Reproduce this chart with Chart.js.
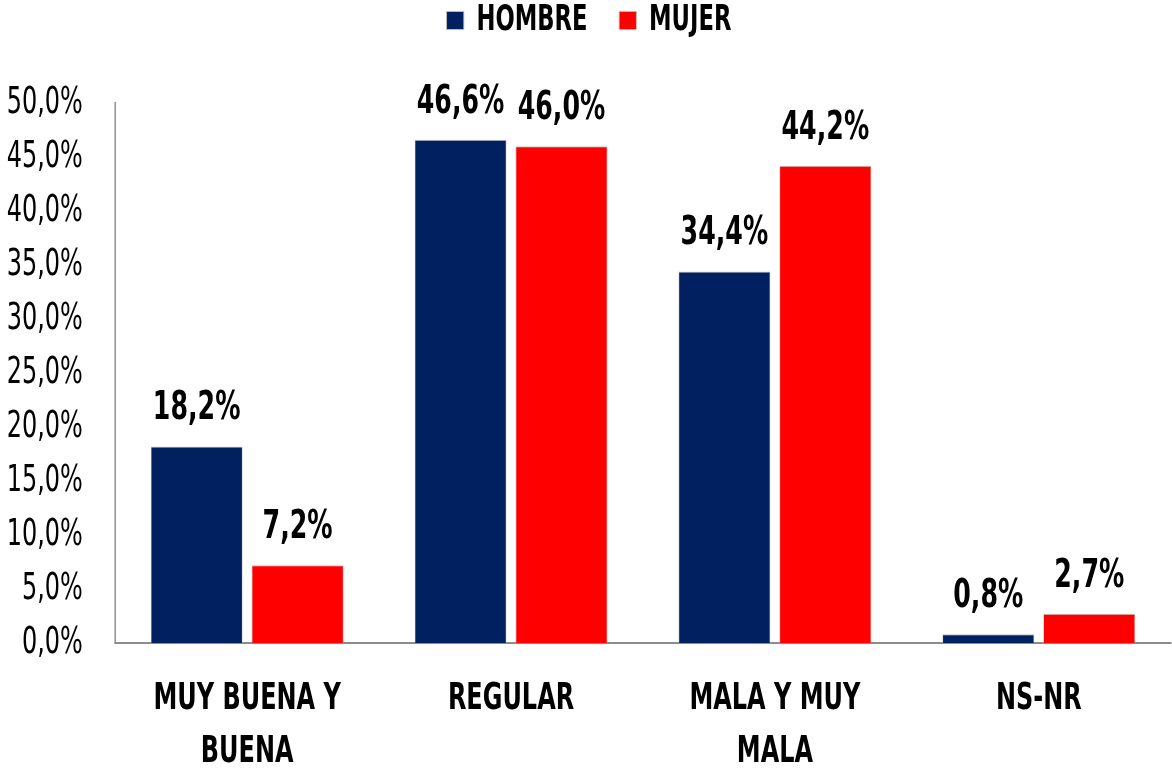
<!DOCTYPE html>
<html>
<head>
<meta charset="utf-8">
<script src="https://cdn.jsdelivr.net/npm/chart.js@4"></script>
<style>
    html, body { margin: 0; padding: 0; background: #fff; overflow: hidden; }
    #chart { display: block; }
</style>
</head>
<body>
<canvas id="chart" width="1628" height="772"></canvas>
<script>
// Chart data
const categories = [['MUY BUENA Y', 'BUENA'], 'REGULAR', ['MALA Y MUY', 'MALA'], 'NS-NR'];
const hombre = [18.2, 46.6, 34.4, 0.8];
const mujer = [7.2, 46.0, 44.2, 2.7];
const seriesNames = ['HOMBRE', 'MUJER'];
const colors = ['#002060', '#FF0000'];

const FONT = '"DejaVu Sans Condensed", "DejaVu Sans", sans-serif';
// the original uses a narrow font: the chart is laid out wider and drawn squeezed
const SQUEEZE = 0.72;

function formatPct(v) {
    return v.toFixed(1).replace('.', ',') + '%';
}

const squeeze = {
    id: 'squeeze',
    beforeDraw(chart) {
        chart.ctx.save();
        chart.ctx.scale(SQUEEZE, 1);
    },
    afterDraw(chart) {
        chart.ctx.restore();
    }
};

// Draw value labels above each bar
const valueLabels = {
    id: 'valueLabels',
    afterDatasetsDraw(chart) {
        const ctx = chart.ctx;
        ctx.save();
        ctx.font = 'bold 39px ' + FONT;
        ctx.fillStyle = '#000';
        ctx.textAlign = 'center';
        ctx.textBaseline = 'alphabetic';
        chart.data.datasets.forEach((ds, i) => {
            chart.getDatasetMeta(i).data.forEach((bar, j) => {
                ctx.fillText(formatPct(ds.data[j]), bar.x, bar.y - 27);
            });
        });
        ctx.restore();
    }
};

// Leave room between legend and plot
const legendSpacer = {
    id: 'legendSpacer',
    beforeInit(chart) {
        const fit = chart.legend.fit;
        chart.legend.fit = function() {
            fit.call(this);
            this.height = 144;
        };
    }
};

new Chart(document.getElementById('chart'), {
    type: 'bar',
    data: {
        labels: categories,
        datasets: [{
            label: seriesNames[0],
            data: hombre,
            backgroundColor: colors[0],
            borderColor: '#bfbfbf',
            borderWidth: 1
        }, {
            label: seriesNames[1],
            data: mujer,
            backgroundColor: colors[1],
            borderColor: '#bfbfbf',
            borderWidth: 1
        }]
    },
    options: {
        responsive: false,
        animation: false,
        devicePixelRatio: 1,
        layout: { padding: { left: 10, right: 2, top: -41, bottom: 0 } },
        categoryPercentage: 0.765,
        barPercentage: 0.911,
        plugins: {
            legend: {
                position: 'top',
                labels: {
                    color: '#000',
                    font: { family: FONT, size: 35, weight: 'bold' },
                    boxWidth: 24,
                    boxHeight: 18,
                    padding: 44,
                    useBorderRadius: false
                }
            },
            tooltip: { enabled: false }
        },
        scales: {
            x: {
                grid: { display: false, drawTicks: false },
                border: { color: '#8c8c8c', width: 2 },
                afterFit(scale) {
                    scale.height = 129;
                    scale.paddingLeft = 0;
                    scale.paddingRight = 0;
                },
                ticks: {
                    color: '#000',
                    font: { family: FONT, size: 37, weight: 'bold', lineHeight: 1.43 },
                    padding: 30,
                    maxRotation: 0
                }
            },
            y: {
                min: 0,
                max: 50,
                grid: { display: false, drawTicks: false },
                border: { color: '#8c8c8c', width: 2 },
                afterFit(scale) { scale.width = 150; },
                ticks: {
                    stepSize: 5,
                    color: '#000',
                    font: { family: FONT, size: 37 },
                    padding: 45,
                    callback: v => formatPct(v)
                }
            }
        }
    },
    plugins: [squeeze, valueLabels, legendSpacer]
});
</script>
</body>
</html>
